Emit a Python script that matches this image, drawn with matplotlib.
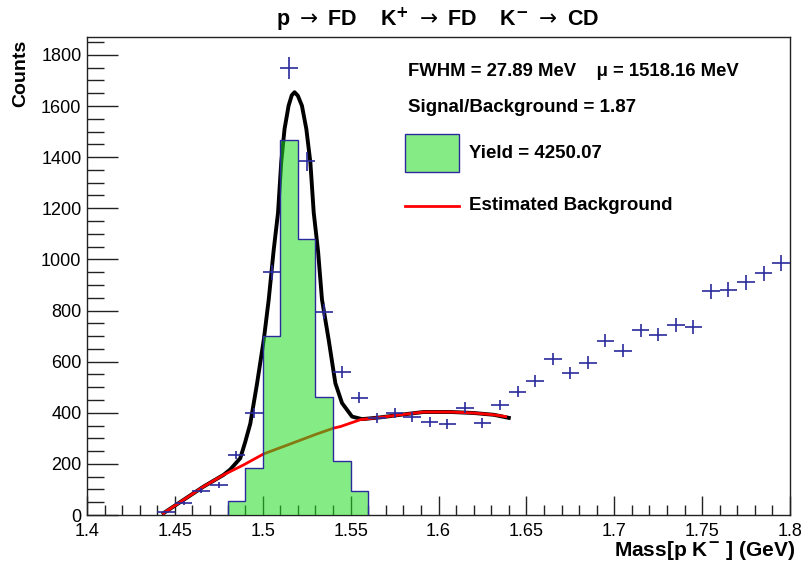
import numpy as np
import matplotlib
matplotlib.use('Agg')
import matplotlib.pyplot as plt
from matplotlib.patches import Rectangle
from matplotlib.lines import Line2D

plt.rcParams['font.family'] = ['Liberation Sans', 'DejaVu Sans']
plt.rcParams['mathtext.fontset'] = 'custom'
plt.rcParams['mathtext.rm'] = 'DejaVu Sans'
plt.rcParams['mathtext.bf'] = 'DejaVu Sans:bold'
plt.rcParams['mathtext.default'] = 'rm'

# data points (bin centres, 10 MeV bins)
mass = [1.445, 1.455, 1.465, 1.475, 1.485, 1.495, 1.505, 1.515, 1.525, 1.535,
        1.545, 1.555, 1.565, 1.575, 1.585, 1.595, 1.605, 1.615, 1.625, 1.635,
        1.645, 1.655, 1.665, 1.675, 1.685, 1.695, 1.705, 1.715, 1.725, 1.735,
        1.745, 1.755, 1.765, 1.775, 1.785, 1.795]
counts = [12, 47, 94, 118, 235, 400, 949, 1749, 1384, 796,
          561, 459, 380, 400, 384, 365, 357, 420, 361, 431,
          482, 525, 611, 557, 596, 682, 643, 722, 706, 745,
          737, 875, 882, 910, 945, 984]

# background-subtracted signal histogram
sig_edges = [1.48, 1.49, 1.50, 1.51, 1.52, 1.53, 1.54, 1.55, 1.56]
sig_counts = [55, 185, 699, 1467, 1078, 460, 212, 94]

# total fit curve
fit_mass = [1.4435, 1.4549, 1.4663, 1.4777, 1.4815, 1.4872, 1.4900, 1.4929,
            1.4967, 1.5006, 1.5034, 1.5062, 1.5087, 1.5105, 1.5124, 1.5147,
            1.5165, 1.5181, 1.5200, 1.5223, 1.5248, 1.5271, 1.5290, 1.5315,
            1.5337, 1.5375, 1.5413, 1.5451, 1.5508, 1.5565, 1.5670, 1.5783,
            1.5916, 1.6068, 1.6201, 1.6315, 1.6400]
fit_vals = [7, 59, 111, 157, 178, 222, 285, 357,
            512, 686, 843, 1035, 1183, 1379, 1510, 1601,
            1642, 1654, 1640, 1601, 1510, 1379, 1183, 1030,
            843, 686, 516, 438, 385, 375, 382, 392,
            403, 403, 399, 392, 380]

# estimated background curve
bkg_mass = [1.4435, 1.4549, 1.4663, 1.4777, 1.4891, 1.5005, 1.5157, 1.5300,
            1.5404, 1.5442, 1.5556, 1.5670, 1.5783, 1.5916, 1.6068, 1.6201,
            1.6315, 1.6382]
bkg_vals = [7, 59, 111, 157, 196, 239, 278, 315,
            340, 346, 373, 382, 392, 403, 403, 399,
            392, 385]

xticks = [1.4, 1.45, 1.5, 1.55, 1.6, 1.65, 1.7, 1.75, 1.8]
xticklabels = ['1.4', '1.45', '1.5', '1.55', '1.6', '1.65', '1.7', '1.75', '1.8']
yticks = [0, 200, 400, 600, 800, 1000, 1200, 1400, 1600, 1800]

W, H = 805, 566


def fp(x, y):
    return x / W, 1 - y / H


green = (0.13, 0.87, 0.13, 0.55)
navy = '#2a2a9c'

fig = plt.figure(figsize=(W / 100, H / 100), dpi=100)
ax = fig.add_axes([87 / W, 1 - 515 / H, (790 - 87) / W, (515 - 37) / H])

ax.plot(fit_mass, fit_vals, color='black', lw=2.8, zorder=2, solid_joinstyle='round')
ax.plot(bkg_mass, bkg_vals, color='red', lw=2.0, zorder=3)
ax.stairs(sig_counts, sig_edges, fill=True, color=green, zorder=4)
ax.stairs(sig_counts, sig_edges, fill=False, color=navy, lw=1.0, zorder=5)
ax.errorbar(mass, counts, xerr=0.005, yerr=np.sqrt(counts), fmt='none',
            ecolor=navy, elinewidth=1.2, capsize=0, zorder=6)

ax.set_xlim(1.4, 1.8)
ax.set_ylim(0, 1870)
ax.set_xticks(xticks)
ax.set_xticklabels(xticklabels)
ax.set_xticks(np.arange(1.4, 1.8001, 0.01), minor=True)
ax.set_yticks(yticks)
ax.set_yticks(np.arange(0, 1851, 50), minor=True)
ax.tick_params(axis='both', which='both', direction='in', top=False, right=False,
               labelsize=13, width=1.0, color='#222222')
ax.tick_params(axis='x', which='major', length=14, pad=6)
ax.tick_params(axis='x', which='minor', length=7)
ax.tick_params(axis='y', which='major', length=22, pad=4)
ax.tick_params(axis='y', which='minor', length=12)
for sp in ax.spines.values():
    sp.set_linewidth(1.0)
    sp.set_color('#222222')

fig.text(*fp(438, 20),
         r'p $\rightarrow$ FD    K$^{\mathbf{+}}$ $\rightarrow$ FD    K$^{\mathbf{-}}$ $\rightarrow$ CD',
         ha='center', va='center', fontsize=15.5, fontweight='bold')
fig.text(*fp(21, 40), 'Counts', rotation=90, ha='center', va='top',
         fontsize=14, fontweight='bold')
fig.text(*fp(795, 551), r'Mass[p K$^{\mathbf{-}}$ ] (GeV)', ha='right', va='center',
         fontsize=15, fontweight='bold')

fig.text(*fp(408, 72), 'FWHM = 27.89 MeV    \u03bc = 1518.16 MeV', ha='left', va='center',
         fontsize=13.3, fontweight='bold')
fig.text(*fp(408, 107), 'Signal/Background = 1.87', ha='left', va='center',
         fontsize=13.5, fontweight='bold')
fig.add_artist(Rectangle(fp(405, 172), 54 / W, 38 / H, transform=fig.transFigure,
                         facecolor=green, edgecolor=navy, lw=1.0))
fig.text(*fp(469, 154), 'Yield = 4250.07', ha='left', va='center',
         fontsize=13.5, fontweight='bold')
fig.add_artist(Line2D([405 / W, 459 / W], [1 - 206 / H] * 2, transform=fig.transFigure,
                      color='red', lw=2.0))
fig.text(*fp(469, 205), 'Estimated Background', ha='left', va='center',
         fontsize=13.5, fontweight='bold')

fig.savefig('out.png', dpi=100)
